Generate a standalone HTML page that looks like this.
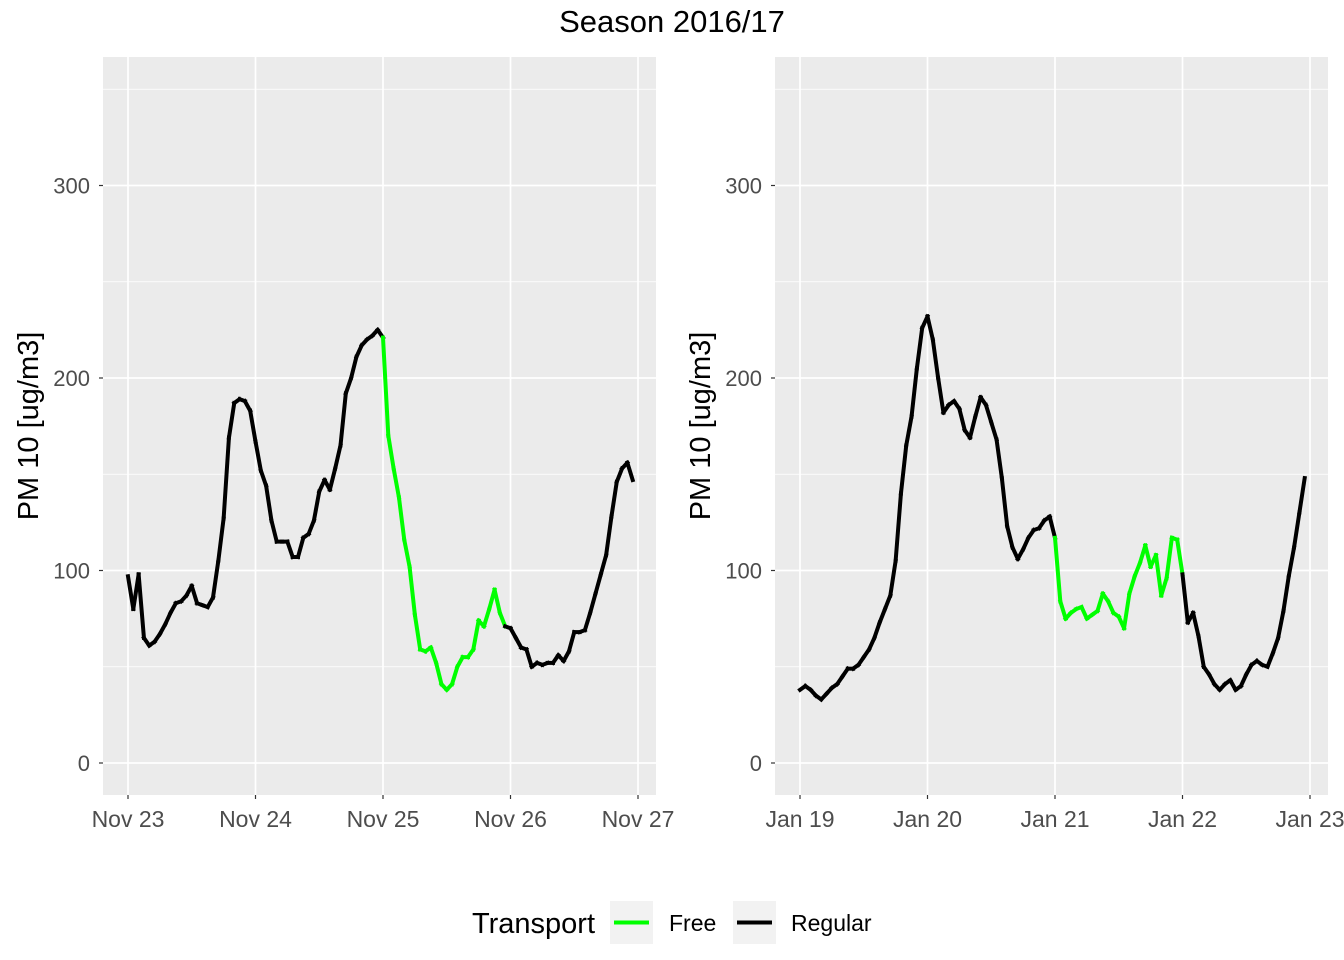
<!DOCTYPE html>
<html><head><meta charset="utf-8"><style>
body{margin:0;background:#fff;}
svg{display:block;font-family:"Liberation Sans",sans-serif;}
</style></head><body>
<svg id="chart" width="1344" height="960">
<text x="672" y="32" text-anchor="middle" font-size="31" fill="#000">Season 2016/17</text>
<g>
<text x="472" y="933" font-size="29" fill="#000">Transport</text>
<rect x="610" y="901" width="43" height="43" fill="#f2f2f2"/>
<line x1="614" y1="922.5" x2="649" y2="922.5" stroke="#00ff00" stroke-width="4"/>
<text x="669" y="931" font-size="23">Free</text>
<rect x="733" y="901" width="43" height="43" fill="#f2f2f2"/>
<line x1="737" y1="922.5" x2="772" y2="922.5" stroke="#000" stroke-width="4"/>
<text x="791" y="931" font-size="23">Regular</text>
</g>
</svg>
<script>
const yTicks=[0,100,200,300];
const xLabels1=["Nov 23","Nov 24","Nov 25","Nov 26","Nov 27"];
const xLabels2=["Jan 19","Jan 20","Jan 21","Jan 22","Jan 23"];
const pm1=[97,80,98,65,61,63,67,72,78,83,84,87,92,83,82,81,86,105,127,169,187,189,188,183,167,152,144,126,115,115,115,107,107,117,119,126,141,147,142,153,165,192,200,211,217,220,222,225,221,170,153,138,116,102,77,59,58,60,52,41,38,41,50,55,55,59,74,71,80,90,78,71,70,65,60,59,50,52,51,52,52,56,53,58,68,68,69,78,88,98,108,128,146,153,156,147];
const free1=[48,70];
const pm2=[38,40,38,35,33,36,39,41,45,49,49,51,55,59,65,73,80,87,105,140,165,180,205,226,232,220,200,182,186,188,184,173,169,180,190,186,177,168,148,123,112,106,111,117,121,122,126,128,117,84,75,78,80,81,75,77,79,88,84,78,76,70,88,97,104,113,102,108,87,96,117,116,98,73,78,66,50,46,41,38,41,43,38,40,46,51,53,51,50,57,65,79,97,112,130,148];
const free2=[48,71];
const NS="http://www.w3.org/2000/svg";
const svg=document.getElementById('chart');
function mk(tag,attrs,parent){const e=document.createElementNS(NS,tag);for(const k in attrs)e.setAttribute(k,attrs[k]);parent.appendChild(e);return e;}
function panel(px,labels,vals,free,idx){
  const left=px,right=px+553,top=57,bottom=795;
  const yS=v=>763-v*1.925;
  const xS=h=>px+25+h*(127.5/24);
  const g=mk('g',{},svg);
  
  
  const bg=mk('rect',{x:left,y:top,width:553,height:bottom-top,fill:'#ebebeb'},g);
  
  
  [50,150,250,350].forEach(v=>{const l=mk('line',{x1:left,x2:right,y1:yS(v),y2:yS(v),stroke:'#fff','stroke-width':0.8},g);
    
    });
  yTicks.forEach(v=>{const l=mk('line',{x1:left,x2:right,y1:yS(v),y2:yS(v),stroke:'#fff','stroke-width':1.7},g);
    
    
    const t=mk('line',{x1:left-4,x2:left,y1:yS(v),y2:yS(v),stroke:'#333','stroke-width':1.2},g);
    
    
    const tx=mk('text',{x:left-13,y:yS(v)+8,'text-anchor':'end','font-size':22,fill:'#4d4d4d'},g);tx.textContent=v;
    
    });
  labels.forEach((lab,i)=>{const x=xS(i*24);
    const l=mk('line',{x1:x,x2:x,y1:top,y2:bottom,stroke:'#fff','stroke-width':1.7},g);
    
    
    const t=mk('line',{x1:x,x2:x,y1:bottom,y2:bottom+4,stroke:'#333','stroke-width':1.2},g);
    
    
    const tx=mk('text',{x:x,y:bottom+32,'text-anchor':'middle','font-size':23,fill:'#4d4d4d'},g);tx.textContent=lab;
    
    });
  const yt=mk('text',{x:0,y:0,'text-anchor':'middle','font-size':29,transform:`translate(${left-65},${(top+bottom)/2}) rotate(-90)`},g);
  yt.textContent='PM 10 [ug/m3]';
  
  
  for(let i=0;i<vals.length-1;i++){
    const isFree=i>=free[0]&&i<=free[1];
    const s=mk('line',{x1:xS(i),y1:yS(vals[i]),x2:xS(i+1),y2:yS(vals[i+1]),stroke:isFree?'#00ff00':'#000','stroke-width':4,'stroke-linecap':'square'},g);
    
    
  }
}
panel(103,xLabels1,pm1,free1,1);
panel(775,xLabels2,pm2,free2,2);
</script>
</body></html>
